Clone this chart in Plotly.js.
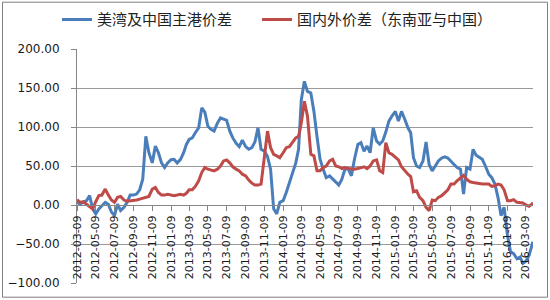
<!DOCTYPE html>
<html>
<head>
<meta charset="utf-8">
<script src="https://cdn.plot.ly/plotly-3.0.1.min.js"></script>
<style>
html,body{margin:0;padding:0;background:#fff;}
#chart{width:550px;height:300px;}
</style>
</head>
<body>
<div id="chart"></div>
<script>
// Dates (three readings per month: 9th, 19th, 29th)
var dates = [
"2012-03-09","2012-03-19","2012-03-29","2012-04-09","2012-04-19","2012-04-29",
"2012-05-09","2012-05-19","2012-05-29","2012-06-09","2012-06-19","2012-06-29",
"2012-07-09","2012-07-19","2012-07-29","2012-08-09","2012-08-19","2012-08-29",
"2012-09-09","2012-09-19","2012-09-29","2012-10-09","2012-10-19","2012-10-29",
"2012-11-09","2012-11-19","2012-11-29","2012-12-09","2012-12-19","2012-12-29",
"2013-01-09","2013-01-19","2013-01-29","2013-02-09","2013-02-19","2013-02-28",
"2013-03-09","2013-03-19","2013-03-29","2013-04-09","2013-04-19","2013-04-29",
"2013-05-09","2013-05-19","2013-05-29","2013-06-09","2013-06-19","2013-06-29",
"2013-07-09","2013-07-19","2013-07-29","2013-08-09","2013-08-19","2013-08-29",
"2013-09-09","2013-09-19","2013-09-29","2013-10-09","2013-10-19","2013-10-29",
"2013-11-09","2013-11-19","2013-11-29","2013-12-09","2013-12-19","2013-12-29",
"2014-01-09","2014-01-19","2014-01-29","2014-02-09","2014-02-19","2014-02-28",
"2014-03-09","2014-03-19","2014-03-29","2014-04-09","2014-04-19","2014-04-29",
"2014-05-09","2014-05-19","2014-05-29","2014-06-09","2014-06-19","2014-06-29",
"2014-07-09","2014-07-19","2014-07-29","2014-08-09","2014-08-19","2014-08-29",
"2014-09-09","2014-09-19","2014-09-29","2014-10-09","2014-10-19","2014-10-29",
"2014-11-09","2014-11-19","2014-11-29","2014-12-09","2014-12-19","2014-12-29",
"2015-01-09","2015-01-19","2015-01-29","2015-02-09","2015-02-19","2015-02-28",
"2015-03-09","2015-03-19","2015-03-29","2015-04-09","2015-04-19","2015-04-29",
"2015-05-09","2015-05-19","2015-05-29","2015-06-09","2015-06-19","2015-06-29",
"2015-07-09","2015-07-19","2015-07-29","2015-08-09","2015-08-19","2015-08-29",
"2015-09-09","2015-09-19","2015-09-29","2015-10-09","2015-10-19","2015-10-29",
"2015-11-09","2015-11-19","2015-11-29","2015-12-09","2015-12-19","2015-12-29",
"2016-01-09","2016-01-19","2016-01-29","2016-02-09","2016-02-19","2016-02-28",
"2016-03-09","2016-03-19","2016-03-29","2016-04-01"
];

// 美湾及中国主港价差
var usGulfChinaSpread = [
3.4,1.3,3.4, 5.5,12,-5, -11.5,-5,-1, 3.4,1,-9,
-13.6,1,-7, -3,3.4,12.7, 12.7,14,19.5, 33,88,67,
54,75.6,67, 54,48,54, 58,58.6,54, 58.6,67,77.7,
84,86,92.6, 99,124.5,119, 101,97,94.7, 105,111.7,109.6,
108.5,95,86, 79,74.8,83, 74.8,71.4,73.5, 80.7,99,71.4,
69,62,46, -5,-11.5,3.4, 5.5,16,29, 43.8,54,71.4,
135,158.5,145.7, 143.6,120,88, 58.6,46,35, 37.4,33,29,
25.5,33,46, 46,37.4,58.6, 77.7,80,69, 75.6,67,99,
82,78,82, 93.5,107.5,114, 120,107.5,120, 109.6,99,92.6,
60.7,50,48, 56.5,80.7,52, 43.8,50,56.5, 60.3,61.6,60.3,
55.6,52,48, 45.9,14,48, 46,71.4,63.7, 60.7,58.6,50,
39.5,35,26.8, 9.8,-13.6,-3, -39,-60,-62.4, -69,-66.7,-75,
-72,-64.6,-52,-47
];

// 国内外价差（东南亚与中国）
var domesticForeignSpread = [
6.8,3.4,4.2, 1.3,-1.7,-5, 4.2,12,12.7, 20.4,12.7,6.4,
3.4,9.8,11, 6.4,4.7,5, 5.5,6.4,7.6, 8.5,9.8,11,
20.4,22.5,16, 12.7,12.7,13.6, 12.7,12,12.7, 13.6,12.7,15,
19.5,19.5,23.8, 31,41.6,48, 45.9,45,43.8, 45.9,50,56.5,
57.8,54,49, 46,43.8,39.5, 37.4,32,28, 25.5,25.5,26.8,
67,94.7,73.5, 65,63,60.7, 67,73.5,74.8, 80,86,88,
105,133,114, 65,63,43.8, 43.8,48,50, 56.5,58.6,50,
49,46.7,48, 46.7,46,46, 46.7,48,49, 46.7,50,56.5,
57.8,44,41.6, 80,67,65, 60.7,57.8,49, 43.8,39.5,36.5,
17,18.3,9.8, 5.5,-3,-7.2, 6.4,5.5,9.8, 12,15.3,19.5,
26.8,26.8,31, 35,38,33, 29.7,28.9,28, 28,26.8,26.8,
26.8,23.8,24.6, 26.8,25.5,19.5, 5.5,5.5,6.8, 3.4,3.4,2.5,
0,-1.7,1.3,3
];

var tickDates = [
"2012-03-09","2012-05-09","2012-07-09","2012-09-09","2012-11-09",
"2013-01-09","2013-03-09","2013-05-09","2013-07-09","2013-09-09","2013-11-09",
"2014-01-09","2014-03-09","2014-05-09","2014-07-09","2014-09-09","2014-11-09",
"2015-01-09","2015-03-09","2015-05-09","2015-07-09","2015-09-09","2015-11-09",
"2016-01-09","2016-03-09"
];
var yTicks = [-100,-50,0,50,100,150,200];
var seriesNames = ["美湾及中国主港价差","国内外价差（东南亚与中国）"];

var numFont = "DejaVu Sans, Liberation Sans, sans-serif";
var cjkFont = "Noto Sans CJK SC, sans-serif";

var traces = [
  {x: dates, y: usGulfChinaSpread, name: seriesNames[0], type: "scatter", mode: "lines",
   line: {color: "#4A7EBB", width: 3}, legend: "legend"},
  {x: dates, y: domesticForeignSpread, name: seriesNames[1], type: "scatter", mode: "lines",
   line: {color: "#BE4B48", width: 3}, legend: "legend2"}
];

var W = 550, H = 300, L = 77, R = 17, T = 49.3, B = 16.7;
var pw = W - L - R, ph = H - T - B;
function px2paperX(p){ return (p - L) / pw; }
function px2paperY(p){ return (H - B - p) / ph; }

function legendAt(px){
  return {
    orientation: "h",
    x: px2paperX(px), xanchor: "left",
    y: px2paperY(20), yanchor: "middle",
    font: {family: cjkFont, size: 15, color: "#222"},
    bgcolor: "rgba(0,0,0,0)", borderwidth: 0
  };
}

var layout = {
  width: W, height: H,
  margin: {l: L, r: R, t: T, b: B, pad: 0, autoexpand: false},
  paper_bgcolor: "#ffffff",
  plot_bgcolor: "#ffffff",
  showlegend: true,
  legend: legendAt(57),
  legend2: legendAt(257),
  xaxis: {
    type: "date",
    range: ["2012-03-09", "2016-04-01"],
    anchor: "free", position: 1/3,
    tickmode: "array", tickvals: tickDates, ticktext: tickDates,
    tickangle: -90,
    ticks: "outside", ticklen: 5, tickcolor: "#868686", tickwidth: 1,
    ticklabelstandoff: 0,
    showline: true, linecolor: "#868686", linewidth: 1,
    showgrid: false, zeroline: false, automargin: false,
    tickfont: {family: numFont, size: 11, color: "#1a1a1a"}
  },
  yaxis: {
    range: [-100, 200],
    tickmode: "array", tickvals: yTicks,
    tickformat: ".2f",
    ticks: "outside", ticklen: 5, tickcolor: "#868686", tickwidth: 1,
    ticklabelstandoff: 9,
    showline: true, linecolor: "#868686", linewidth: 1,
    showgrid: true, gridcolor: "#9a9a9a", gridwidth: 1,
    zeroline: false, automargin: false,
    tickfont: {family: numFont, size: 12, color: "#1a1a1a"}
  },
  shapes: [
    {type: "rect", xref: "paper", yref: "paper",
     x0: px2paperX(2.5), x1: px2paperX(547.5), y0: px2paperY(297.5), y1: px2paperY(2.5),
     line: {color: "#7f7f7f", width: 1}, fillcolor: "rgba(0,0,0,0)", layer: "below"}
  ]
};

Plotly.newPlot("chart", traces, layout, {staticPlot: true, displayModeBar: false});
</script>
</body>
</html>
